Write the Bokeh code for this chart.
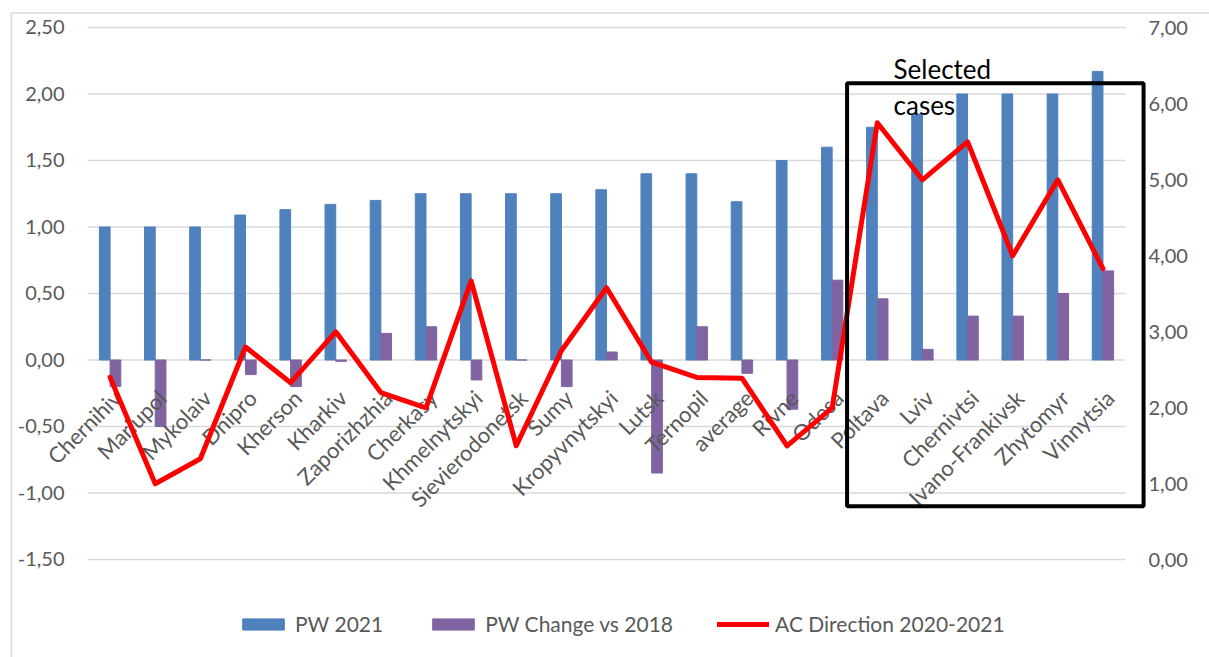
import numpy as np
from bokeh.plotting import figure
from bokeh.models import (Range1d, Legend, LegendItem, BoxAnnotation, Label,
                          ColumnDataSource)
from bokeh.core.properties import value
from bokeh.embed import file_html
from bokeh.resources import INLINE

categories = ["Chernihiv", "Mariupol", "Mykolaiv", "Dnipro", "Kherson", "Kharkiv",
              "Zaporizhzhia", "Cherkasy", "Khmelnytskyi", "Sievierodonetsk", "Sumy",
              "Kropyvnytskyi", "Lutsk", "Ternopil", "average", "Rivne", "Odesa",
              "Poltava", "Lviv", "Chernivtsi", "Ivano-Frankivsk", "Zhytomyr", "Vinnytsia"]
pw_2021 = [1.00, 1.00, 1.00, 1.09, 1.13, 1.17, 1.20, 1.25, 1.25, 1.25, 1.25, 1.28,
           1.40, 1.40, 1.19, 1.50, 1.60, 1.75, 1.85, 2.00, 2.00, 2.00, 2.17]
pw_change = [-0.20, -0.50, 0.00, -0.11, -0.20, -0.01, 0.20, 0.25, -0.15, 0.00, -0.20, 0.06,
             -0.85, 0.25, -0.10, -0.37, 0.60, 0.46, 0.08, 0.33, 0.33, 0.50, 0.67]
ac_direction = [2.40, 1.00, 1.33, 2.80, 2.33, 3.00, 2.20, 2.00, 3.67, 1.50, 2.75, 3.58,
                2.60, 2.40, 2.39, 1.50, 2.00, 5.75, 5.00, 5.50, 4.00, 5.00, 3.83]
left_ticks = [-1.5, -1.0, -0.5, 0.0, 0.5, 1.0, 1.5, 2.0, 2.5]
right_ticks = [0, 1, 2, 3, 4, 5, 6, 7]

FONT = "Lato"
GREY = "#595959"
n = len(categories)
idx = np.arange(n)
bw = 0.237

W, H = 1209, 657
# plotting frame covers the whole canvas so that labels and legend are never clipped
X0, X1 = -2.4286, 24.361
Y0, Y1 = -2.237, 2.703
R0, R1 = -1.2855, 7.359

p = figure(width=W, height=H, output_backend="svg", toolbar_location=None,
           x_range=Range1d(X0, X1), y_range=Range1d(Y0, Y1),
           x_axis_location=None, y_axis_location=None,
           min_border=0, min_border_left=0, min_border_right=0,
           min_border_top=0, min_border_bottom=0)
p.extra_y_ranges = {"right": Range1d(R0, R1)}
p.outline_line_color = None
p.grid.visible = False
p.background_fill_color = "white"
p.border_fill_color = "white"

def fmt(v):
    return f"{v:.2f}".replace(".", ",")

# chart-area border
p.add_layout(BoxAnnotation(left=X0 + 11 / 45.13, right=X1 + 1, top=Y1 - 12.5 / 133,
                           bottom=Y0 - 1, fill_alpha=0, line_color="#d9d9d9",
                           line_alpha=1, line_width=1.5))

# gridlines limited to the category span
p.segment(x0=[-0.5] * len(left_ticks), x1=[n - 0.5] * len(left_ticks),
          y0=left_ticks, y1=left_ticks, line_color="#d9d9d9", line_width=1.5)

# axis tick labels
p.text(x=[X0] * len(left_ticks), y=left_ticks, text=[fmt(t) for t in left_ticks],
       x_offset=64, text_align="right", text_baseline="middle",
       text_font=value(FONT), text_font_size="20px", text_color=GREY)
p.text(x=[X0] * len(right_ticks), y=right_ticks, text=[fmt(t) for t in right_ticks],
       y_range_name="right", x_offset=1148, text_align="left", text_baseline="middle",
       text_font=value(FONT), text_font_size="20px", text_color=GREY)

src = ColumnDataSource(dict(xb=idx - bw / 2, xp=idx + bw / 2, pw=pw_2021,
                            ch=pw_change, x=idx, ac=ac_direction, cat=categories,
                            zero=[0] * n))
rb = p.vbar(x="xb", top="pw", bottom=0, width=bw, source=src,
            fill_color="#4f81bd", line_color="#4f81bd")
rp = p.vbar(x="xp", top="ch", bottom=0, width=bw, source=src,
            fill_color="#8064a2", line_color="#8064a2")

p.text(x="x", y="zero", text="cat", source=src, angle=np.pi / 4,
       text_align="right", text_baseline="middle", x_offset=7, y_offset=34,
       text_font=value(FONT), text_font_size="22px", text_color=GREY)

rl = p.line(x="x", y="ac", source=src, y_range_name="right", line_color="#ff0000",
            line_width=5, line_join="round", line_cap="round")

# "Selected cases" box
p.add_layout(BoxAnnotation(left=16.33, right=22.9, top=2.08, bottom=-1.10,
                           fill_alpha=0, line_color="black", line_alpha=1,
                           line_width=4))
p.add_layout(Label(x=17.36, y=2.07, text="Selected", text_font=FONT,
                   text_font_size="26px", text_color="black"))
p.add_layout(Label(x=17.36, y=1.80, text="cases", text_font=FONT,
                   text_font_size="26px", text_color="black"))

legend = Legend(items=[LegendItem(label="PW 2021", renderers=[rb]),
                       LegendItem(label="PW Change vs 2018", renderers=[rp]),
                       LegendItem(label="AC Direction 2020-2021", renderers=[rl])],
                location=(237, 21), orientation="horizontal",
                glyph_width=52, glyph_height=14, label_height=20, label_standoff=6,
                spacing=44, padding=0, margin=0, border_line_color=None,
                background_fill_alpha=0, label_text_font=FONT,
                label_text_font_size="21px", label_text_color=GREY)
p.add_layout(legend, "center")

open("out.html", "w").write(file_html(p, INLINE))
